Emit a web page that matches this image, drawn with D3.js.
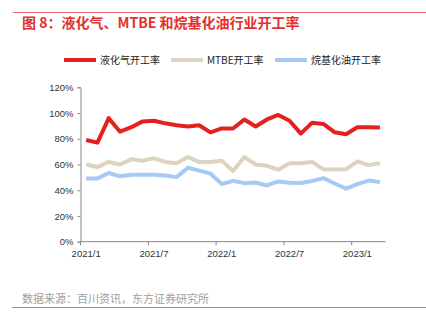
<!DOCTYPE html>
<html>
<head>
<meta charset="utf-8">
<script src="https://cdn.jsdelivr.net/npm/d3@7"></script>
<style>
  body { margin: 0; background: #fff; }
  text { font-family: "Liberation Sans", Arial, sans-serif; }
  .cjk { font-family: "Noto Sans CJK SC", sans-serif; }
</style>
</head>
<body>
<div id="chart"></div>
<script>
  // monthly, 2021/1 - 2023/3
  var months = ["2021/1","2021/2","2021/3","2021/4","2021/5","2021/6","2021/7","2021/8","2021/9",
    "2021/10","2021/11","2021/12","2022/1","2022/2","2022/3","2022/4","2022/5","2022/6","2022/7",
    "2022/8","2022/9","2022/10","2022/11","2022/12","2023/1","2023/2","2023/3"];
  var lpg  = [79, 77, 96, 85.5, 89, 93.5, 94, 92, 90.5, 89.5, 90.5, 85, 88, 88, 95, 89.5, 95, 98.5, 94, 84, 92.5, 91.5, 85, 83.5, 89, 89, 88.8];
  var mtbe = [60, 58, 62, 60, 64, 63, 64.8, 62, 61, 65.8, 62, 62, 63, 55, 65.8, 60, 59, 56, 61, 61, 62, 56.2, 56.2, 56.2, 62.5, 59.5, 61];
  var alky = [49.2, 49.2, 53.4, 50.8, 52, 52, 52, 51.5, 50.2, 57.5, 55.2, 53, 44.8, 47.3, 45.5, 46, 43.7, 46.8, 45.8, 45.6, 47.2, 49.4, 45.2, 41.3, 44.7, 47.5, 46.3];
  var seriesNames = ["液化气开工率", "MTBE开工率", "烷基化油开工率"];
  var yTicks = [0, 20, 40, 60, 80, 100, 120];

  var series = [
    {name: seriesNames[0], values: lpg,  color: "#e4211e"},
    {name: seriesNames[1], values: mtbe, color: "#ddd4c0"},
    {name: seriesNames[2], values: alky, color: "#a8c8f6"}
  ];

  var W = 426, H = 323;
  var svg = d3.select("#chart").append("svg").attr("width", W).attr("height", H);

  // header / footer rules
  svg.append("line").attr("x1", 13).attr("x2", W).attr("y1", 12.5).attr("y2", 12.5)
    .attr("stroke", "#ee6b6b").attr("stroke-width", 1);
  svg.append("line").attr("x1", 12).attr("x2", W).attr("y1", 307.5).attr("y2", 307.5)
    .attr("stroke", "#ee6b6b").attr("stroke-width", 1);

  svg.append("text").attr("class", "cjk").attr("x", 22).attr("y", 28)
    .attr("fill", "#e2312d").style("font-size", "14px").style("font-weight", "bold")
    .text("图 8：液化气、MTBE 和烷基化油行业开工率");

  svg.append("text").attr("class", "cjk").attr("x", 22).attr("y", 303)
    .attr("fill", "#a0a0a0").style("font-size", "11px")
    .text("数据来源：百川资讯，东方证券研究所");

  // legend
  var legX = [64, 171, 275];
  var leg = svg.append("g").selectAll("g").data(series).enter().append("g")
    .attr("transform", function(d, i) { return "translate(" + legX[i] + ",60)"; });
  leg.append("line").attr("x1", 0).attr("x2", 32)
    .attr("stroke", function(d) { return d.color; }).attr("stroke-width", 4);
  leg.append("text").attr("class", "cjk").attr("x", 36).attr("y", 3.5)
    .attr("fill", "#222").style("font-size", "10px")
    .text(function(d) { return d.name; });

  // plot
  var x = d3.scaleBand().domain(months).range([80.5, 385.6]).paddingInner(0).paddingOuter(0);
  var y = d3.scaleLinear().domain([0, 120]).range([241.7, 87.3]);

  var g = svg.append("g");

  // y axis
  var yAxis = d3.axisLeft(y).tickValues(yTicks).tickSize(3).tickPadding(4)
    .tickFormat(function(d) { return d + "%"; });
  var ya = g.append("g").attr("transform", "translate(80.5,0)").call(yAxis);
  ya.select(".domain").attr("stroke", "#888");
  ya.selectAll(".tick line").attr("stroke", "#888");
  ya.selectAll("text").attr("fill", "#333").style("font-size", "9.5px")
    .style("font-family", "'Liberation Sans', Arial, sans-serif");

  // x axis: ticks on band boundaries every 6 months, labels on band centres
  var xa = g.append("g").attr("transform", "translate(0," + y(0) + ")");
  xa.append("line").attr("x1", 80.5).attr("x2", 385.6).attr("stroke", "#888");
  var labelled = months.filter(function(m, i) { return i % 6 === 0; });
  xa.selectAll(".xt").data(labelled).enter().append("line")
    .attr("x1", function(d) { return x(d); }).attr("x2", function(d) { return x(d); })
    .attr("y1", 0).attr("y2", 3.5).attr("stroke", "#888");
  xa.selectAll(".xl").data(labelled).enter().append("text")
    .attr("x", function(d) { return x(d) + x.bandwidth() / 2; }).attr("y", 15)
    .attr("text-anchor", "middle").attr("fill", "#333").style("font-size", "9.5px")
    .text(function(d) { return d; });

  var line = d3.line()
    .x(function(d, i) { return x(months[i]) + x.bandwidth() / 2; })
    .y(function(d) { return y(d); });

  g.selectAll(".series").data(series.slice().reverse()).enter().append("path")
    .attr("d", function(d) { return line(d.values); })
    .attr("fill", "none").attr("stroke", function(d) { return d.color; })
    .attr("stroke-width", 4).attr("stroke-linejoin", "round");
</script>
</body>
</html>
